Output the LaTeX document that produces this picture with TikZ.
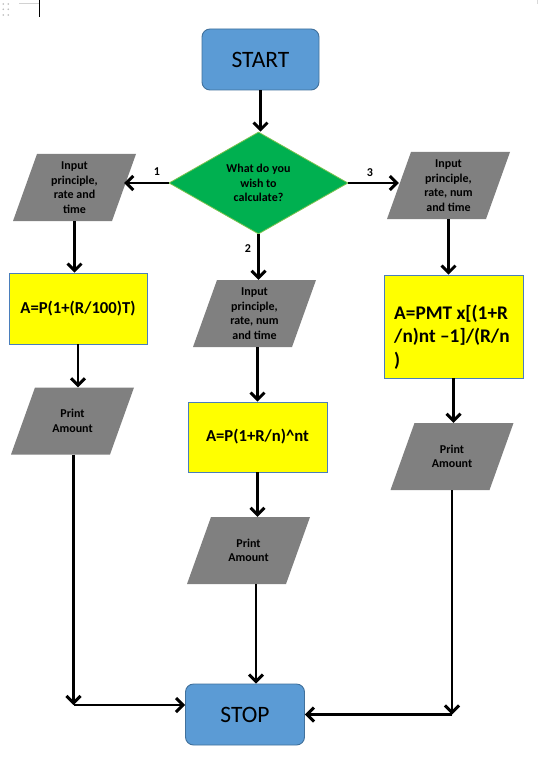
\documentclass[tikz,border=0pt]{standalone}
\usepackage{fontspec}
\setmainfont{Carlito}
\usetikzlibrary{arrows.meta,shapes.geometric}
\definecolor{termfill}{HTML}{5B9BD5}
\definecolor{termdraw}{HTML}{41719C}
\definecolor{decfill}{HTML}{00B050}
\definecolor{decdraw}{HTML}{7CC24E}
\definecolor{boxfill}{HTML}{FFFF00}
\definecolor{boxdraw}{HTML}{4A7EBB}
\definecolor{iofill}{HTML}{808080}
\newcommand{\smallfnt}{\fontsize{12}{14.6}\selectfont\bfseries}
\newcommand{\iopara}[4]{%
  \fill[iofill] ({#2-61.5},{#3+33.5}) -- ({#2+37.5},{#3+33.5}) -- ({#2+61.5},{#3-33.5}) -- ({#2-37.5},{#3-33.5}) -- cycle;
  \node[iotext] (#1) at (#2,#3) {#4};}
\tikzset{
  termbox/.style={rectangle, rounded corners=8pt, fill=termfill, draw=termdraw, line width=0.9pt, inner sep=0pt, font=\fontsize{23.5}{28}\selectfont},
  decbox/.style={diamond, fill=decfill, draw=decdraw, line width=0.8pt, minimum width=179pt, minimum height=102pt, inner sep=0pt, shape aspect=1.75, align=center, font=\smallfnt},
  calcbox/.style={rectangle, fill=boxfill, draw=boxdraw, line width=0.8pt, inner sep=0pt, font=\fontsize{16.7}{20}\selectfont\bfseries},
  iotext/.style={rectangle, minimum width=99pt, minimum height=67pt, inner sep=0pt, align=center, font=\smallfnt},
  flowarrow/.style={line width=2.9pt, -{Straight Barb[length=7pt,width=14pt]}},
  lbl/.style={font=\smallfnt, inner sep=0pt}
}
\begin{document}
\begin{tikzpicture}[x=1pt,y=-1pt]
\useasboundingbox (0,0) rectangle (540,778);
\fill[white] (0,0) rectangle (540,778);
% editor artefacts at the top
\foreach \px in {3.3,8.3}{\foreach \py in {4,9.3,15}{\fill[gray!55] (\px,\py) circle (0.9);}}
\draw[gray!35, line width=0.8pt] (19,3.3) -- (39,3.3);
\fill[black] (38.7,0) rectangle (40.3,17);
\draw[gray!30, line width=0.6pt] (537.5,0) -- (537.5,4);
% terminals and decision
\node[termbox, minimum width=117pt, minimum height=61pt] (start) at (260.5,59.5) {START};
\node[decbox] (dec) at (258.5,183) {What do you\\wish to\\calculate?};
% input shapes
\iopara{in1}{74.5}{187.5}{Input\\principle,\\rate and\\time}
\iopara{in2}{254.5}{313.5}{Input\\principle,\\rate, num\\and time}
\iopara{in3}{448.5}{185.5}{Input\\principle,\\rate, num\\and time}
% calculation boxes
\node[calcbox, minimum width=138pt, minimum height=71pt] (box1) at (78,308.5) {A=P(1+(R/100)T)};
\node[calcbox, minimum width=139pt, minimum height=70pt] (box2) at (257.5,437) {A=P(1+R/n)\textasciicircum nt};
\node[calcbox, minimum width=139pt, minimum height=103pt] (box3) at (453.5,326.5) {};
\node[font=\fontsize{19.3}{23.5}\selectfont\bfseries, align=left, anchor=west, inner sep=0pt] (box3t) at (394,337) {A=PMT x[(1+R\\/n)nt –1]/(R/n\\)};
% print shapes
\iopara{pr1}{72.5}{421}{Print\\Amount}
\iopara{pr2}{248.5}{550.5}{Print\\Amount}
\iopara{pr3}{452}{456.5}{Print\\Amount}
\node[termbox, minimum width=119pt, minimum height=61pt] (stop) at (245,714.5) {STOP};
% connectors
\draw[flowarrow] (start.south) -- (start.south |- dec.north);
\draw[flowarrow] (dec.west) -- (dec.west -| in1.east);
\draw[flowarrow] (dec.east) -- (dec.east -| in3.west);
\draw[flowarrow] (dec.south) -- (dec.south |- in2.north);
\node[lbl] (l1) at (157,172) {1};
\node[lbl] (l3) at (370,173) {3};
\node[lbl] (l2) at (248,249) {2};
\draw[flowarrow] (in1.south) -- (in1.south |- box1.north);
\draw[flowarrow] (box1.south) -- (box1.south |- pr1.north);
\draw[flowarrow] (box2.north |- in2.south) -- (box2.north);
\draw[flowarrow] (box2.south) -- (box2.south |- pr2.north);
\draw[flowarrow] (in3.south) -- (in3.south |- box3.north);
\draw[flowarrow] (box3.south) -- (box3.south |- pr3.north);
\coordinate (p2b) at ([xshift=7.5pt]pr2.south);
\draw[flowarrow] (p2b) -- (p2b |- stop.north);
\coordinate (lc) at (73.5,705);
\draw[flowarrow] (pr1.south -| lc) -- (lc);
\draw[flowarrow] (lc) -- (lc -| stop.west);
\coordinate (rc) at (452,714.5);
\draw[flowarrow] (pr3.south -| rc) -- (rc);
\draw[flowarrow] (rc) -- (stop.east);
\end{tikzpicture}
\end{document}
